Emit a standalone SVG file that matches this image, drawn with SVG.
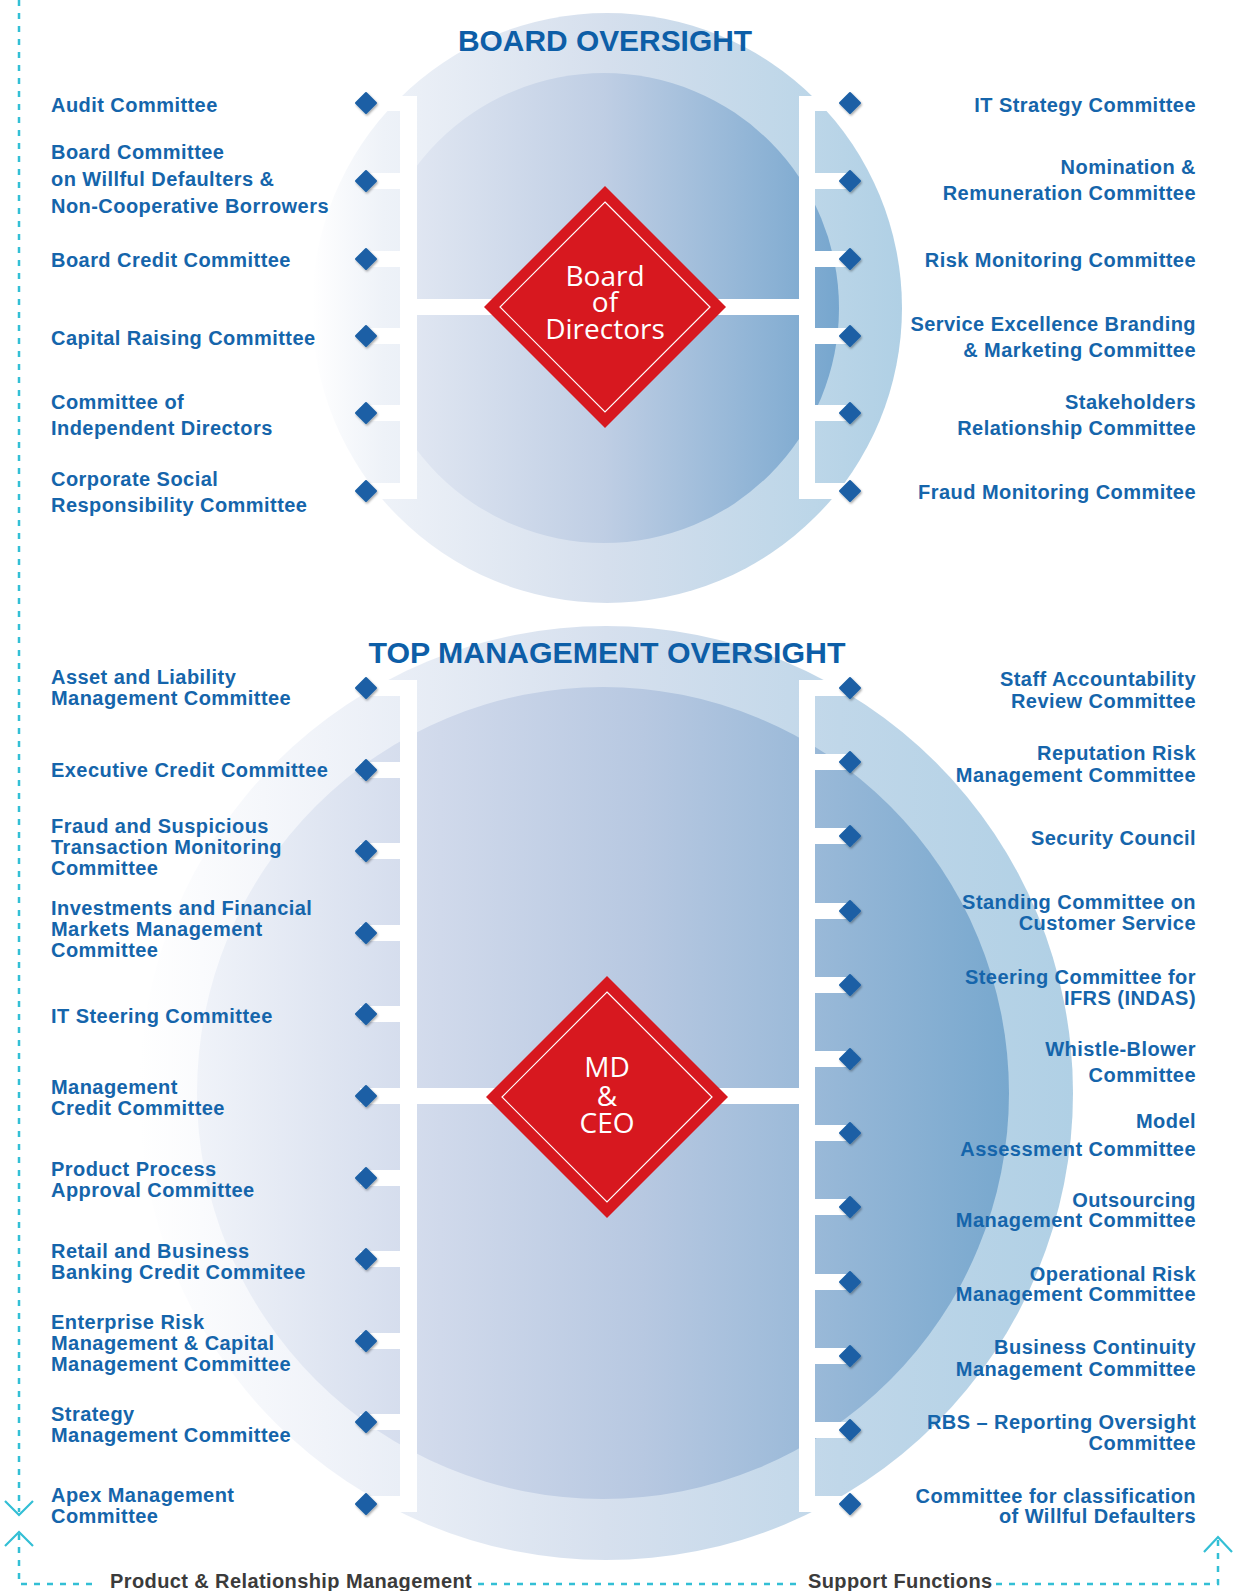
<svg xmlns="http://www.w3.org/2000/svg" width="1236" height="1591" viewBox="0 0 1236 1591">
<defs>
<linearGradient id="gTO" gradientUnits="userSpaceOnUse" x1="312" y1="0" x2="902" y2="0">
<stop offset="0" stop-color="#ffffff"/><stop offset="0.12" stop-color="#eef2f8"/><stop offset="0.5" stop-color="#d5dfed"/><stop offset="0.85" stop-color="#bcd6e8"/><stop offset="1" stop-color="#b0d0e5"/>
</linearGradient>
<linearGradient id="gTI" gradientUnits="userSpaceOnUse" x1="369" y1="0" x2="839" y2="0">
<stop offset="0" stop-color="#e8ecf5"/><stop offset="0.5" stop-color="#bfcee4"/><stop offset="1" stop-color="#76a6ce"/>
</linearGradient>
<linearGradient id="gBO" gradientUnits="userSpaceOnUse" x1="139" y1="0" x2="1073" y2="0">
<stop offset="0" stop-color="#ffffff"/><stop offset="0.2" stop-color="#f0f3f9"/><stop offset="0.5" stop-color="#d6e0ee"/><stop offset="0.75" stop-color="#c0d7e9"/><stop offset="1" stop-color="#b0d0e5"/>
</linearGradient>
<linearGradient id="gBI" gradientUnits="userSpaceOnUse" x1="197" y1="0" x2="1009" y2="0">
<stop offset="0" stop-color="#f0f3f9"/><stop offset="0.3" stop-color="#d0d9eb"/><stop offset="0.55" stop-color="#b7c8e1"/><stop offset="1" stop-color="#78a8ce"/>
</linearGradient>
<clipPath id="clipTI"><rect x="400" y="0" width="836" height="620"/></clipPath>
<filter id="sh" x="-60%" y="-60%" width="220%" height="220%"><feDropShadow dx="1" dy="1.5" stdDeviation="1.2" flood-color="#000" flood-opacity="0.35"/></filter>
<path id="dia" d="M0,-10 L10,0 L0,10 L-10,0Z"/>
</defs>
<style>
.lbl{font-family:"Liberation Sans",Arial,sans-serif;font-weight:700;font-size:20px;letter-spacing:0.45px;fill:#1565ab}
.r{text-anchor:end}
.ttl{font-family:"Liberation Sans",Arial,sans-serif;font-weight:700;font-size:29.5px;fill:#0d5ea7;text-anchor:middle}
.dash{fill:none;stroke:#33bfd5;stroke-width:2.5;stroke-dasharray:6 7}
.chev{fill:none;stroke:#33bfd5;stroke-width:2.2}
.bar{fill:#ffffff}
.bd{fill:#1b5fa5;stroke:#1b5fa5;stroke-width:2;stroke-linejoin:round;filter:url(#sh)}
.red{fill:#d7181f}
.inr{fill:none;stroke:#ffffff;stroke-width:1.2}
.rt{font-family:"Open Sans","Liberation Sans",sans-serif;font-size:28px;fill:#ffffff;text-anchor:middle}
.ft{font-family:"Liberation Sans",Arial,sans-serif;font-weight:700;font-size:20px;letter-spacing:0.4px;fill:#3b3b3b}
</style>
<rect width="1236" height="1591" fill="#ffffff"/>

<!-- background circles -->
<g id="backdrop">
<circle cx="607" cy="308" r="295" fill="url(#gTO)"/>
<circle cx="604" cy="308" r="235" fill="url(#gTI)" clip-path="url(#clipTI)"/>
<circle cx="606" cy="1093" r="467" fill="url(#gBO)"/>
<circle cx="603" cy="1093" r="406" fill="url(#gBI)"/>
</g>

<text class="ttl" x="605" y="51" textLength="294" lengthAdjust="spacingAndGlyphs">BOARD OVERSIGHT</text>
<text class="ttl" x="607" y="663" textLength="477" lengthAdjust="spacingAndGlyphs">TOP MANAGEMENT OVERSIGHT</text>

<!-- connectors -->
<g id="connectors" class="bar">
<rect x="400" y="96" width="17" height="403"/>
<rect x="799" y="96" width="16" height="403"/>
<rect x="416" y="299" width="384" height="16"/>
<rect x="360" y="95" width="41" height="16"/><rect x="360" y="173" width="41" height="16"/><rect x="360" y="251" width="41" height="16"/><rect x="360" y="328" width="41" height="16"/><rect x="360" y="405" width="41" height="16"/><rect x="360" y="483" width="41" height="16"/>
<rect x="814" y="95" width="40" height="16"/><rect x="814" y="173" width="40" height="16"/><rect x="814" y="251" width="40" height="16"/><rect x="814" y="328" width="40" height="16"/><rect x="814" y="405" width="40" height="16"/><rect x="814" y="483" width="40" height="16"/>

<rect x="400" y="680" width="17" height="832"/>
<rect x="799" y="680" width="16" height="832"/>
<rect x="416" y="1088" width="384" height="16"/>
<rect x="360" y="680" width="41" height="16"/><rect x="360" y="762" width="41" height="16"/><rect x="360" y="843" width="41" height="16"/><rect x="360" y="925" width="41" height="16"/><rect x="360" y="1006" width="41" height="16"/><rect x="360" y="1088" width="41" height="16"/><rect x="360" y="1170" width="41" height="16"/><rect x="360" y="1251" width="41" height="16"/><rect x="360" y="1333" width="41" height="16"/><rect x="360" y="1414" width="41" height="16"/><rect x="360" y="1496" width="41" height="16"/>
<rect x="814" y="680" width="40" height="16"/><rect x="814" y="754" width="40" height="16"/><rect x="814" y="828" width="40" height="16"/><rect x="814" y="903" width="40" height="16"/><rect x="814" y="977" width="40" height="16"/><rect x="814" y="1051" width="40" height="16"/><rect x="814" y="1125" width="40" height="16"/><rect x="814" y="1199" width="40" height="16"/><rect x="814" y="1274" width="40" height="16"/><rect x="814" y="1348" width="40" height="16"/><rect x="814" y="1422" width="40" height="16"/><rect x="814" y="1496" width="40" height="16"/>
</g>

<g id="flow-lines">
<path class="dash" d="M19,0 V1512"/>
<polyline class="chev" points="5,1501 19,1515 33,1501"/>
<polyline class="chev" points="5,1546 19,1532 33,1546"/>
<path class="dash" d="M19,1534 V1584 H96"/>
<path class="dash" d="M478,1584 H796"/>
<path class="dash" d="M996,1584 H1218 V1540"/>
<polyline class="chev" points="1204,1552 1218,1537 1232,1552"/>
<text class="ft" x="110" y="1588">Product &amp; Relationship Management</text>
<text class="ft" x="808" y="1588">Support Functions</text>
</g>

<!-- central nodes -->
<g id="board-of-directors">
<path class="red" d="M605,186 L726,307 L605,428 L484,307Z"/>
<path class="inr" d="M605,202 L710,307 L605,412 L500,307Z"/>
<text class="rt" x="605"><tspan x="605" y="286">Board</tspan><tspan x="605" y="312">of</tspan><tspan x="605" y="339">Directors</tspan></text>
</g>
<g id="md-ceo">
<path class="red" d="M607,976 L728,1097 L607,1218 L486,1097Z"/>
<path class="inr" d="M607,992 L712,1097 L607,1202 L502,1097Z"/>
<text class="rt" x="607"><tspan x="607" y="1077">MD</tspan><tspan x="607" y="1106">&amp;</tspan><tspan x="607" y="1133">CEO</tspan></text>
</g>

<!-- board committees left -->
<g id="audit-committee"><use href="#dia" class="bd" x="366" y="103"/><text class="lbl" x="51" y="112">Audit Committee</text></g>
<g id="willful-defaulters-board"><use href="#dia" class="bd" x="366" y="181"/><text class="lbl"><tspan x="51" y="159">Board Committee</tspan><tspan x="51" y="186">on Willful Defaulters &amp;</tspan><tspan x="51" y="213">Non-Cooperative Borrowers</tspan></text></g>
<g id="board-credit"><use href="#dia" class="bd" x="366" y="259"/><text class="lbl" x="51" y="267">Board Credit Committee</text></g>
<g id="capital-raising"><use href="#dia" class="bd" x="366" y="336"/><text class="lbl" x="51" y="345">Capital Raising Committee</text></g>
<g id="independent-directors"><use href="#dia" class="bd" x="366" y="413"/><text class="lbl"><tspan x="51" y="409">Committee of</tspan><tspan x="51" y="435">Independent Directors</tspan></text></g>
<g id="csr"><use href="#dia" class="bd" x="366" y="491"/><text class="lbl"><tspan x="51" y="486">Corporate Social</tspan><tspan x="51" y="512">Responsibility Committee</tspan></text></g>

<!-- board committees right -->
<g id="it-strategy"><use href="#dia" class="bd" x="850" y="103"/><text class="lbl r" x="1196" y="112">IT Strategy Committee</text></g>
<g id="nomination"><use href="#dia" class="bd" x="850" y="181"/><text class="lbl r"><tspan x="1196" y="174">Nomination &amp;</tspan><tspan x="1196" y="200">Remuneration Committee</tspan></text></g>
<g id="risk-monitoring"><use href="#dia" class="bd" x="850" y="259"/><text class="lbl r" x="1196" y="267">Risk Monitoring Committee</text></g>
<g id="service-excellence"><use href="#dia" class="bd" x="850" y="336"/><text class="lbl r"><tspan x="1196" y="331">Service Excellence Branding</tspan><tspan x="1196" y="357">&amp; Marketing Committee</tspan></text></g>
<g id="stakeholders"><use href="#dia" class="bd" x="850" y="413"/><text class="lbl r"><tspan x="1196" y="409">Stakeholders</tspan><tspan x="1196" y="435">Relationship Committee</tspan></text></g>
<g id="fraud-monitoring"><use href="#dia" class="bd" x="850" y="491"/><text class="lbl r" x="1196" y="499">Fraud Monitoring Commitee</text></g>

<!-- management committees left -->
<g id="alco"><use href="#dia" class="bd" x="366" y="688"/><text class="lbl"><tspan x="51" y="684">Asset and Liability</tspan><tspan x="51" y="705">Management Committee</tspan></text></g>
<g id="executive-credit"><use href="#dia" class="bd" x="366" y="770"/><text class="lbl" x="51" y="777">Executive Credit Committee</text></g>
<g id="fraud-suspicious"><use href="#dia" class="bd" x="366" y="851"/><text class="lbl"><tspan x="51" y="833">Fraud and Suspicious</tspan><tspan x="51" y="854">Transaction Monitoring</tspan><tspan x="51" y="875">Committee</tspan></text></g>
<g id="investments"><use href="#dia" class="bd" x="366" y="933"/><text class="lbl"><tspan x="51" y="915">Investments and Financial</tspan><tspan x="51" y="936">Markets Management</tspan><tspan x="51" y="957">Committee</tspan></text></g>
<g id="it-steering"><use href="#dia" class="bd" x="366" y="1014"/><text class="lbl" x="51" y="1023">IT Steering Committee</text></g>
<g id="management-credit"><use href="#dia" class="bd" x="366" y="1096"/><text class="lbl"><tspan x="51" y="1094">Management</tspan><tspan x="51" y="1115">Credit Committee</tspan></text></g>
<g id="product-process"><use href="#dia" class="bd" x="366" y="1178"/><text class="lbl"><tspan x="51" y="1176">Product Process</tspan><tspan x="51" y="1197">Approval Committee</tspan></text></g>
<g id="retail-business"><use href="#dia" class="bd" x="366" y="1259"/><text class="lbl"><tspan x="51" y="1258">Retail and Business</tspan><tspan x="51" y="1279">Banking Credit Commitee</tspan></text></g>
<g id="enterprise-risk"><use href="#dia" class="bd" x="366" y="1341"/><text class="lbl"><tspan x="51" y="1329">Enterprise Risk</tspan><tspan x="51" y="1350">Management &amp; Capital</tspan><tspan x="51" y="1371">Management Committee</tspan></text></g>
<g id="strategy"><use href="#dia" class="bd" x="366" y="1422"/><text class="lbl"><tspan x="51" y="1421">Strategy</tspan><tspan x="51" y="1442">Management Committee</tspan></text></g>
<g id="apex"><use href="#dia" class="bd" x="366" y="1504"/><text class="lbl"><tspan x="51" y="1502">Apex Management</tspan><tspan x="51" y="1523">Committee</tspan></text></g>

<!-- management committees right -->
<g id="staff-accountability"><use href="#dia" class="bd" x="850" y="688"/><text class="lbl r"><tspan x="1196" y="686">Staff Accountability</tspan><tspan x="1196" y="708">Review Committee</tspan></text></g>
<g id="reputation-risk"><use href="#dia" class="bd" x="850" y="762"/><text class="lbl r"><tspan x="1196" y="760">Reputation Risk</tspan><tspan x="1196" y="782">Management Committee</tspan></text></g>
<g id="security-council"><use href="#dia" class="bd" x="850" y="836"/><text class="lbl r" x="1196" y="845">Security Council</text></g>
<g id="customer-service"><use href="#dia" class="bd" x="850" y="911"/><text class="lbl r"><tspan x="1196" y="909">Standing Committee on</tspan><tspan x="1196" y="930">Customer Service</tspan></text></g>
<g id="ifrs"><use href="#dia" class="bd" x="850" y="985"/><text class="lbl r"><tspan x="1196" y="984">Steering Committee for</tspan><tspan x="1196" y="1005">IFRS (INDAS)</tspan></text></g>
<g id="whistle-blower"><use href="#dia" class="bd" x="850" y="1059"/><text class="lbl r"><tspan x="1196" y="1056">Whistle-Blower</tspan><tspan x="1196" y="1082">Committee</tspan></text></g>
<g id="model-assessment"><use href="#dia" class="bd" x="850" y="1133"/><text class="lbl r"><tspan x="1196" y="1128">Model</tspan><tspan x="1196" y="1156">Assessment Committee</tspan></text></g>
<g id="outsourcing"><use href="#dia" class="bd" x="850" y="1207"/><text class="lbl r"><tspan x="1196" y="1207">Outsourcing</tspan><tspan x="1196" y="1227">Management Committee</tspan></text></g>
<g id="operational-risk"><use href="#dia" class="bd" x="850" y="1282"/><text class="lbl r"><tspan x="1196" y="1281">Operational Risk</tspan><tspan x="1196" y="1301">Management Committee</tspan></text></g>
<g id="business-continuity"><use href="#dia" class="bd" x="850" y="1356"/><text class="lbl r"><tspan x="1196" y="1354">Business Continuity</tspan><tspan x="1196" y="1376">Management Committee</tspan></text></g>
<g id="rbs"><use href="#dia" class="bd" x="850" y="1430"/><text class="lbl r"><tspan x="1196" y="1429">RBS – Reporting Oversight</tspan><tspan x="1196" y="1450">Committee</tspan></text></g>
<g id="willful-defaulters-classification"><use href="#dia" class="bd" x="850" y="1504"/><text class="lbl r"><tspan x="1196" y="1503">Committee for classification</tspan><tspan x="1196" y="1523">of Willful Defaulters</tspan></text></g>
</svg>
